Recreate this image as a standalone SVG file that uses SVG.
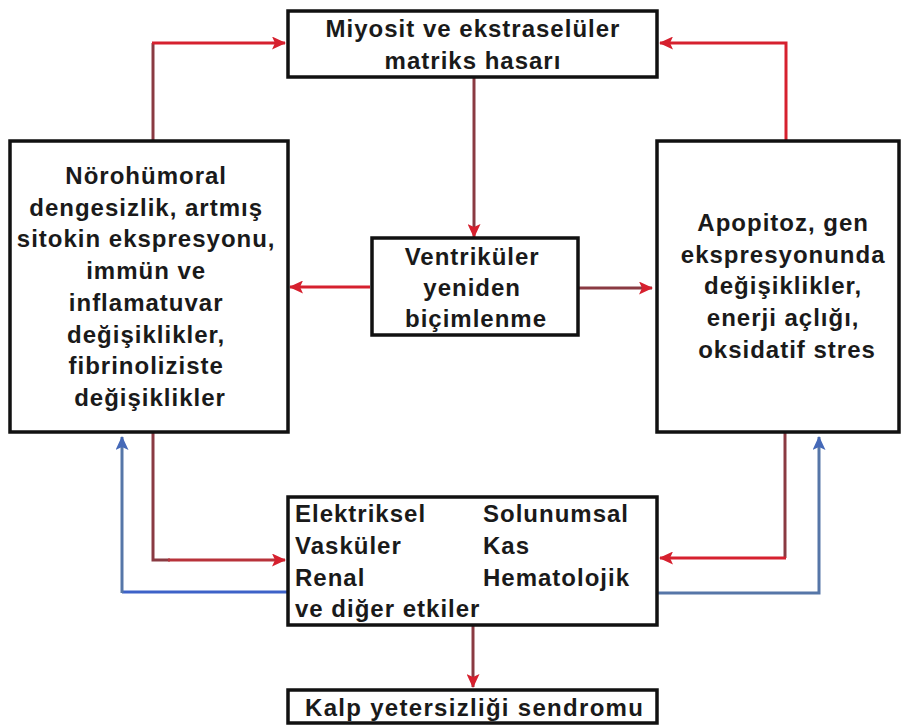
<svg xmlns="http://www.w3.org/2000/svg" width="905" height="727" viewBox="0 0 905 727">
<style>
.box{fill:#fff;stroke:#111;stroke-width:3.5}
.t{font-family:"Liberation Sans",Arial,sans-serif;font-weight:bold;font-size:24px;fill:#1a1a1a;letter-spacing:1px}
.c{text-anchor:middle}
.ln{fill:none;stroke-width:3}
.red{stroke:#d6202e}
.brn{stroke:#8a3a42}
.blu{stroke:#3d62c8}
.blu2{stroke:#5676a8}
</style>
<defs>
<marker id="ar" markerUnits="userSpaceOnUse" markerWidth="15" markerHeight="13" refX="13" refY="6.5" orient="auto"><path d="M0,0 L14,6.5 L0,13 L3,6.5 Z" fill="#d6202e"/></marker>
<marker id="ab" markerUnits="userSpaceOnUse" markerWidth="15" markerHeight="13" refX="13" refY="6.5" orient="auto"><path d="M0,0 L14,6.5 L0,13 L3,6.5 Z" fill="#4569b8"/></marker>
</defs>
<g id="connectors">
<path class="ln brn" d="M153,141 V43"/>
<path class="ln red" d="M152,43 H285" marker-end="url(#ar)"/>
<path class="ln red" d="M786,141 V43 H660" marker-end="url(#ar)"/>
<path class="ln brn" d="M474,77 V237" marker-end="url(#ar)"/>
<path class="ln red" d="M370,287 H290" marker-end="url(#ar)"/>
<path class="ln brn" d="M578,288 H652" marker-end="url(#ar)"/>
<path class="ln brn" d="M153,432 V560 H170"/>
<path class="ln red" d="M168,560 H285" style="stroke:#b8323a" marker-end="url(#ar)"/>
<path class="ln brn" d="M785,432 V558"/>
<path class="ln red" d="M786,558 H660" marker-end="url(#ar)"/>
<path class="ln blu" d="M287,592 H122"/>
<path class="ln blu2" d="M122,593 V437" marker-end="url(#ab)"/>
<path class="ln blu2" d="M657,593 H819 V437" marker-end="url(#ab)"/>
<path class="ln brn" d="M473,626 V687" marker-end="url(#ar)"/>
</g>
<g id="n-top">
<rect class="box" x="288" y="11" width="369" height="66"/>
<text class="t c" x="473" y="37">Miyosit ve ekstraselüler</text>
<text class="t c" x="473" y="69">matriks hasarı</text>
</g>
<g id="n-left">
<rect class="box" x="10" y="141" width="278" height="291"/>
<text class="t c" x="150">
<tspan x="150" y="184">Nörohümoral</tspan>
<tspan x="150" y="216">dengesizlik, artmış</tspan>
<tspan x="150" y="247">sitokin ekspresyonu,</tspan>
<tspan x="150" y="279">immün ve</tspan>
<tspan x="150" y="311">inflamatuvar</tspan>
<tspan x="150" y="343">değişiklikler,</tspan>
<tspan x="150" y="374">fibrinoliziste</tspan>
<tspan x="150" y="406">değişiklikler</tspan>
</text>
</g>
<g id="n-center">
<rect class="box" x="372" y="238" width="206" height="97"/>
<text class="t c">
<tspan x="476" y="265">Ventriküler</tspan>
<tspan x="476" y="296">yeniden</tspan>
<tspan x="476" y="327">biçimlenme</tspan>
</text>
</g>
<g id="n-right">
<rect class="box" x="657" y="141" width="242" height="291"/>
<text class="t c">
<tspan x="787" y="231">Apopitoz, gen</tspan>
<tspan x="787" y="263">ekspresyonunda</tspan>
<tspan x="787" y="294">değişiklikler,</tspan>
<tspan x="787" y="326">enerji açlığı,</tspan>
<tspan x="787" y="358">oksidatif stres</tspan>
</text>
</g>
<g id="n-effects">
<rect class="box" x="288" y="497" width="369" height="128"/>
<text class="t">
<tspan x="295" y="522">Elektriksel</tspan>
<tspan x="295" y="554">Vasküler</tspan>
<tspan x="295" y="586">Renal</tspan>
<tspan x="295" y="617">ve diğer etkiler</tspan>
</text>
<text class="t">
<tspan x="483" y="522">Solunumsal</tspan>
<tspan x="483" y="554">Kas</tspan>
<tspan x="483" y="586">Hematolojik</tspan>
</text>
</g>
<g id="n-bottom">
<rect class="box" x="288" y="690" width="369" height="33"/>
<text class="t" x="305" y="716" style="letter-spacing:1.3px">Kalp yetersizliği sendromu</text>
</g>
</svg>
